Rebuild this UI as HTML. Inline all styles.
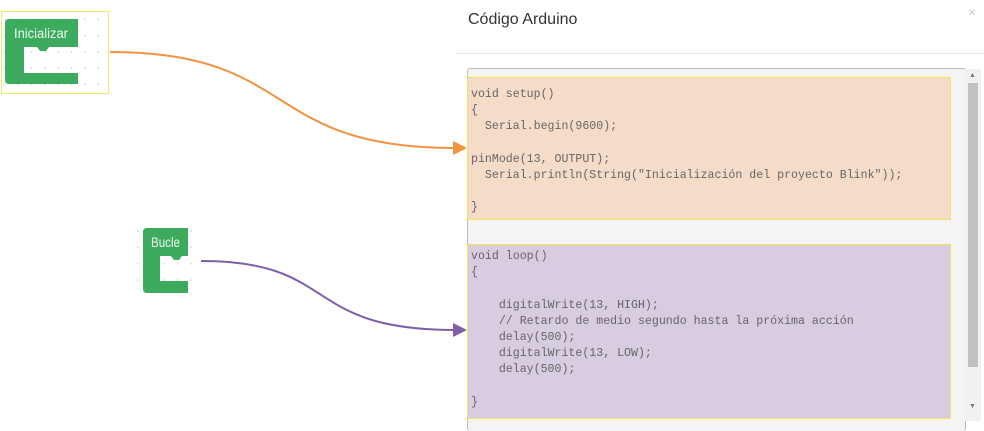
<!DOCTYPE html>
<html><head><meta charset="utf-8"><style>
body{margin:0;width:984px;height:430px;background:#fff;position:relative;overflow:hidden;font-family:"Liberation Sans",sans-serif}
.abs{position:absolute}
.code{font-family:"Liberation Mono",monospace;font-size:11.6px;color:#666;white-space:pre;line-height:16.2px;position:absolute;left:3px}
</style></head><body>
<svg class="abs" style="left:0;top:0" width="984" height="430">
<defs>
<pattern id="dots" width="13.3" height="16.3" patternUnits="userSpaceOnUse" x="2" y="0"><path d="M3 2V4M2 3H4" stroke="#b8dbe6" stroke-width="0.7"/></pattern>
</defs>
<rect x="1.5" y="11.5" width="107" height="82" fill="url(#dots)" stroke="#f5e86a"/>
<path d="M9 19 H78 V47 H49 L46 51 H40 L37 47 H24 V73 H78 V84 H9 Q5 84 5 80 V23 Q5 19 9 19Z" fill="#3dab5d"/>
<text x="14" y="38" font-size="14" fill="#eef8ee" textLength="54" lengthAdjust="spacingAndGlyphs">Inicializar</text>
<rect x="128" y="223" width="74" height="72" fill="url(#dots)"/>
<path d="M147 228 H188 V256 H182 L179 260 H174 L171 256 H160 V281 H188 V293 H147 Q143 293 143 289 V232 Q143 228 147 228Z" fill="#3dab5d"/>
<text x="151" y="247" font-size="14" fill="#eef8ee" textLength="29" lengthAdjust="spacingAndGlyphs">Bucle</text>
<path d="M110 52 C300 52,260 148,455 148" fill="none" stroke="#f39240" stroke-width="2"/>
<polygon points="453,141 467,148 453,155" fill="#f39240"/>
<path d="M201 261 C340 261,300 330,455 330" fill="none" stroke="#7f5fa8" stroke-width="2"/>
<polygon points="453,323 467,330 453,337" fill="#7f5fa8"/>
</svg>
<div class="abs" style="left:468px;top:11px;font-size:16px;color:#333">Código Arduino</div>
<div class="abs" style="left:968px;top:4px;font-size:14px;color:#ccc">×</div>
<div class="abs" style="left:456px;top:53px;width:528px;height:1px;background:#e5e5e5"></div>
<div class="abs" style="left:467px;top:68px;width:497px;height:362px;background:#f4f4f4;border:1px solid #bbb;border-radius:3px;border-bottom:none"></div>
<div class="abs" style="left:965px;top:69px;width:16px;height:352px;background:#f1f1f1"></div>
<div class="abs" style="left:968px;top:83px;width:10px;height:284px;background:#c1c1c1"></div>
<div class="abs" style="left:969px;top:72px;font-size:7px;color:#777">▲</div>
<div class="abs" style="left:969px;top:403px;font-size:7px;color:#777">▼</div>
<div class="abs" style="left:467px;top:77px;width:482px;height:141px;background:#f4dcc8;border:1px solid #f3e45c">
<div class="code" style="top:9px">void setup()
{
  Serial.begin(9600);

pinMode(13, OUTPUT);
  Serial.println(String("Inicialización del proyecto Blink"));

}</div></div>
<div class="abs" style="left:467px;top:244px;width:482px;height:173px;background:#d7cce0;border:1px solid #f3e45c">
<div class="code" style="top:4px">void loop()
{

    digitalWrite(13, HIGH);
    // Retardo de medio segundo hasta la próxima acción
    delay(500);
    digitalWrite(13, LOW);
    delay(500);

}</div></div>
</body></html>
